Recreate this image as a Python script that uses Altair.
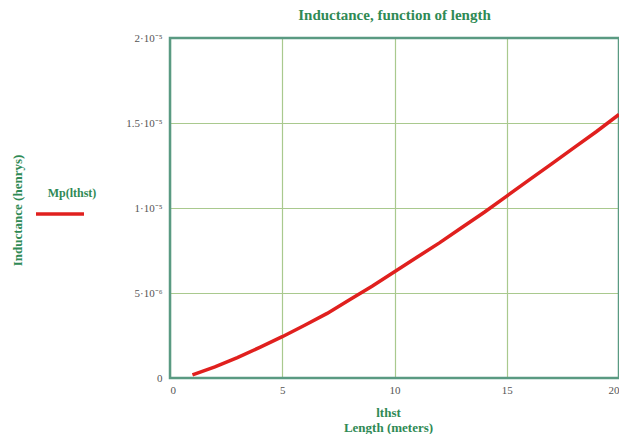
import altair as alt
import pandas as pd

# Data (inductance in henrys vs length in meters)
lengths = [1, 2, 3, 4, 5, 6, 7, 8, 9, 10, 11, 12, 13, 14, 15, 16, 17, 18, 19, 20]
inductance_e5 = [0.018, 0.065, 0.12, 0.18, 0.243, 0.31, 0.38, 0.46, 0.54, 0.625,
                 0.71, 0.795, 0.885, 0.975, 1.07, 1.165, 1.26, 1.355, 1.45, 1.55]
inductance = [v * 1e-5 for v in inductance_e5]

x_ticks = [0, 5, 10, 15, 20]
y_ticks = [0, 5e-6, 1e-5, 1.5e-5, 2e-5]
y_tick_labels = ["0", "5·10⁻⁶", "1·10⁻⁵", "1.5·10⁻⁵", "2·10⁻⁵"]
legend_label = ["Mp(lthst)"]

df = pd.DataFrame({"lthst": lengths, "Mp": inductance})
leg = pd.DataFrame({"label": legend_label})

GREEN = "#2f8a55"
GRID = "#a9c98e"
FRAME = "#5a9a82"
SERIF = "Liberation Serif"

W = 449
H = 340

label_expr = (
    "datum.value == 0 ? '0' : datum.value < 0.75e-5 ? '" + y_tick_labels[1] + "' : "
    "datum.value < 1.25e-5 ? '" + y_tick_labels[2] + "' : "
    "datum.value < 1.75e-5 ? '" + y_tick_labels[3] + "' : '" + y_tick_labels[4] + "'"
)

line = alt.Chart(df).mark_line(color="#e0201e", strokeWidth=3.5).encode(
    x=alt.X(
        "lthst:Q",
        scale=alt.Scale(domain=[0, 20], nice=False),
        axis=alt.Axis(
            values=x_ticks,
            title=["lthst", "Length (meters)"],
            titleX=218,
            titleY=28,
            titleBaseline="top",
            titleLineHeight=15,
            titleColor=GREEN,
            titleFont=SERIF,
            titleFontSize=13,
            titleFontWeight="bold",
            labelFont=SERIF,
            labelFontSize=11,
            labelColor="#555555",
            labelPadding=6,
            ticks=False,
            domain=False,
            gridColor=GRID,
            gridWidth=1.2,
            labelFlush=True,
        ),
    ),
    y=alt.Y(
        "Mp:Q",
        scale=alt.Scale(domain=[0, 2e-5], nice=False),
        axis=alt.Axis(
            values=y_ticks,
            labelExpr=label_expr,
            title="Inductance (henrys)",
            titleX=-153,
            titleY=172,
            titleAngle=-90,
            titleBaseline="middle",
            titleColor=GREEN,
            titleFont=SERIF,
            titleFontSize=13,
            titleFontWeight="bold",
            labelFont=SERIF,
            labelFontSize=11,
            labelColor="#555555",
            labelPadding=8,
            ticks=False,
            domain=False,
            gridColor=GRID,
            gridWidth=1.2,
        ),
    ),
)

frame = alt.Chart(leg).mark_rect(fill=None, stroke=FRAME, strokeWidth=2.5).encode(
    x=alt.value(0), x2=alt.value(W), y=alt.value(0), y2=alt.value(H)
)

legend_text = alt.Chart(leg).mark_text(
    font=SERIF, fontSize=12, fontWeight="bold", color=GREEN, align="center", baseline="middle"
).encode(x=alt.value(-98), y=alt.value(155), text="label:N")

legend_line = alt.Chart(leg).mark_rule(color="#e0201e", strokeWidth=3.5).encode(
    x=alt.value(-134), x2=alt.value(-86), y=alt.value(176)
)

chart = (
    alt.layer(frame, line, legend_text, legend_line)
    .properties(
        width=W,
        height=H,
        autosize=alt.AutoSizeParams(type="none"),
        padding={"left": 162, "top": 30, "right": 0, "bottom": 56},
        title=alt.TitleParams(
            "Inductance, function of length",
            font=SERIF,
            fontSize=15,
            fontWeight="bold",
            color=GREEN,
            anchor="middle",
            offset=9,
        ),
    )
    .configure_view(strokeWidth=0)
    .configure(background="white")
)

chart.save("out.html", embed_options={"renderer": "svg", "actions": False})
